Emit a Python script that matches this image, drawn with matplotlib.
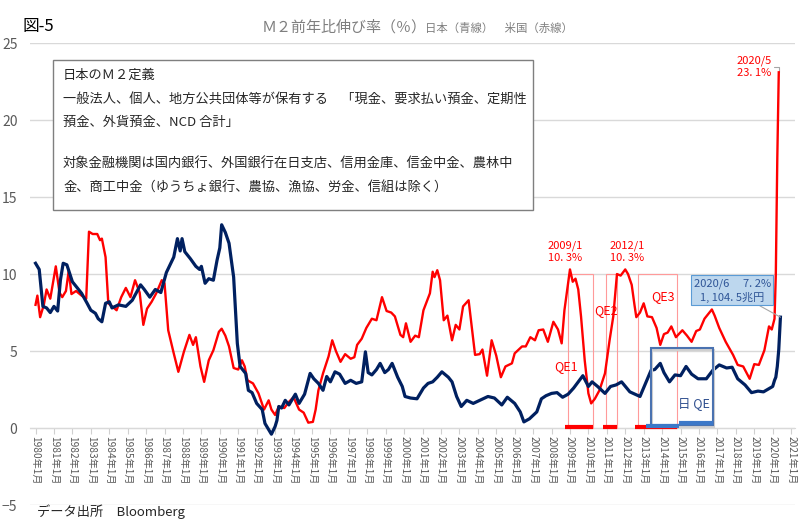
import matplotlib
matplotlib.use("Agg")
import matplotlib.pyplot as plt
from matplotlib.patches import Rectangle

plt.rcParams['font.family'] = ['Noto Sans CJK JP', 'DejaVu Sans']

# 日本 M2 前年比 (%)
jp_t = [1980.0, 1980.2, 1980.4, 1980.6, 1980.8, 1981.0, 1981.2, 1981.35, 1981.5, 1981.7,
        1982.0, 1982.2, 1982.5, 1982.8, 1983.0, 1983.25, 1983.4, 1983.6, 1983.8, 1984.0,
        1984.15, 1984.5, 1984.9, 1985.25, 1985.7, 1985.9, 1986.2, 1986.5, 1986.8, 1987.1,
        1987.5, 1987.7, 1987.85, 1987.95, 1988.1, 1988.4, 1988.7, 1988.9, 1989.0, 1989.2,
        1989.4, 1989.65, 1989.85, 1990.0, 1990.1, 1990.3, 1990.5, 1990.75, 1990.95, 1991.1,
        1991.4, 1991.55, 1991.75, 1992.0, 1992.3, 1992.45, 1992.65, 1992.8, 1993.0, 1993.1,
        1993.2, 1993.35, 1993.55, 1993.75, 1993.9, 1994.1, 1994.3, 1994.6, 1994.9, 1995.1,
        1995.35, 1995.6, 1995.8, 1996.0, 1996.25, 1996.5, 1996.8, 1997.1, 1997.4, 1997.7,
        1997.9, 1998.05, 1998.25, 1998.5, 1998.7, 1998.95, 1999.15, 1999.35, 1999.65, 1999.9,
        2000.05, 2000.35, 2000.7, 2001.05, 2001.3, 2001.55, 2001.8, 2002.05, 2002.4, 2002.6,
        2002.85, 2003.1, 2003.4, 2003.75, 2004.1, 2004.55, 2004.9, 2005.3, 2005.6, 2006.0,
        2006.3, 2006.5, 2006.8, 2007.2, 2007.45, 2007.7, 2008.0, 2008.3, 2008.6, 2008.9,
        2009.2, 2009.45, 2009.7, 2010.0, 2010.2, 2010.5, 2010.9, 2011.2, 2011.5, 2011.8,
        2012.25, 2012.8, 2013.1, 2013.4, 2013.6, 2013.9, 2014.1, 2014.4, 2014.7, 2015.0,
        2015.3, 2015.6, 2015.95, 2016.4, 2016.75, 2017.1, 2017.5, 2017.8, 2018.1, 2018.5,
        2018.85, 2019.2, 2019.5, 2019.85, 2020.0, 2020.1, 2020.17, 2020.25, 2020.33, 2020.42]
jp_v = [10.7, 10.3, 7.9, 7.8, 7.5, 7.9, 7.6, 9.6, 10.7, 10.6,
        9.5, 9.2, 8.75, 8.1, 7.65, 7.45, 7.1, 6.9, 8.1, 8.2,
        7.8, 8.0, 7.9, 8.3, 9.3, 9.0, 8.5, 9.0, 8.8, 10.1,
        11.1, 12.3, 11.5, 12.3, 11.45, 11.0, 10.5, 10.3, 10.5, 9.4,
        9.7, 9.6, 10.9, 11.7, 13.2, 12.7, 12.0, 9.8, 5.5, 4.0,
        3.55, 2.45, 2.3, 1.6, 1.2, 0.3, -0.1, -0.4, 0.1, 0.5,
        1.4, 1.3, 1.8, 1.5, 1.8, 2.2, 1.6, 2.2, 3.55, 3.2,
        2.9, 2.45, 3.35, 3.0, 3.65, 3.5, 2.9, 3.1, 2.9, 3.0,
        4.95, 3.6, 3.45, 3.8, 4.2, 3.6, 3.8, 4.2, 3.3, 2.7,
        2.05, 1.95, 1.9, 2.6, 2.9, 3.0, 3.3, 3.65, 3.3, 3.0,
        2.05, 1.4, 1.8, 1.6, 1.8, 2.05, 1.95, 1.5, 2.0, 1.6,
        1.05, 0.4, 0.6, 1.05, 1.9, 2.1, 2.25, 2.3, 2.0, 2.2,
        2.6, 3.0, 3.4, 2.7, 3.0, 2.7, 2.25, 2.7, 2.8, 3.0,
        2.35, 2.05, 2.9, 3.75, 3.8, 4.2, 3.6, 3.0, 3.45, 3.4,
        4.0, 3.5, 3.2, 3.2, 3.75, 4.1, 3.9, 3.95, 3.2, 2.8,
        2.3, 2.4, 2.35, 2.6, 2.7, 3.1, 3.3, 4.0, 5.1, 7.2]

# 米国 M2 前年比 (%)
us_t = [1980.0, 1980.1, 1980.25, 1980.45, 1980.6, 1980.8, 1981.1, 1981.3, 1981.45, 1981.65,
        1981.8, 1981.95, 1982.2, 1982.5, 1982.75, 1982.9, 1983.1, 1983.35, 1983.5, 1983.6,
        1983.8, 1983.95, 1984.15, 1984.4, 1984.65, 1984.9, 1985.15, 1985.4, 1985.65, 1985.85,
        1986.05, 1986.3, 1986.55, 1986.85, 1987.0, 1987.2, 1987.5, 1987.75, 1988.05, 1988.35,
        1988.55, 1988.7, 1988.95, 1989.15, 1989.4, 1989.65, 1989.95, 1990.1, 1990.3, 1990.5,
        1990.75, 1991.0, 1991.2, 1991.35, 1991.5, 1991.8, 1992.1, 1992.4, 1992.65, 1992.8,
        1993.0, 1993.2, 1993.5, 1993.75, 1994.0, 1994.3, 1994.55, 1994.8, 1995.05, 1995.2,
        1995.35, 1995.6, 1995.9, 1996.1, 1996.3, 1996.55, 1996.8, 1997.1, 1997.3, 1997.45,
        1997.7, 1997.95, 1998.25, 1998.5, 1998.8, 1999.05, 1999.3, 1999.5, 1999.8, 1999.95,
        2000.1, 2000.35, 2000.6, 2000.8, 2001.05, 2001.4, 2001.55, 2001.65, 2001.8, 2001.95,
        2002.15, 2002.35, 2002.6, 2002.8, 2003.0, 2003.2, 2003.5, 2003.6, 2003.85, 2004.1,
        2004.25, 2004.5, 2004.75, 2005.0, 2005.25, 2005.5, 2005.85, 2006.0, 2006.4, 2006.6,
        2006.85, 2007.1, 2007.3, 2007.55, 2007.8, 2008.1, 2008.35, 2008.55, 2008.7, 2008.85,
        2009.0, 2009.15, 2009.3, 2009.45, 2009.6, 2009.8, 2010.0, 2010.15, 2010.35, 2010.6,
        2010.9, 2011.15, 2011.35, 2011.55, 2011.75, 2012.0, 2012.15, 2012.35, 2012.5, 2012.6,
        2012.8, 2013.0, 2013.2, 2013.45, 2013.7, 2013.9, 2014.1, 2014.3, 2014.5, 2014.75,
        2015.1, 2015.35, 2015.6, 2015.85, 2016.05, 2016.3, 2016.7, 2016.85, 2017.1, 2017.45,
        2017.85, 2018.1, 2018.4, 2018.75, 2019.0, 2019.25, 2019.55, 2019.8, 2019.95, 2020.1,
        2020.17, 2020.25, 2020.33]
us_v = [8.0, 8.6, 7.2, 8.0, 9.0, 8.4, 10.5, 8.8, 8.5, 8.9,
        10.2, 8.7, 8.9, 8.6, 8.4, 12.75, 12.6, 12.6, 12.2, 12.3,
        11.1, 8.1, 7.9, 7.65, 8.5, 9.1, 8.5, 9.6, 8.8, 6.7,
        7.75, 8.2, 8.75, 9.6, 9.4, 6.35, 4.85, 3.65, 4.95, 6.05,
        5.4, 5.9, 4.0, 3.0, 4.4, 5.05, 6.25, 6.45, 6.0, 5.3,
        3.9, 3.8, 4.4, 4.0, 3.1, 2.9, 2.25, 1.2, 1.8, 1.2,
        0.85, 1.4, 1.3, 1.7, 2.0, 1.2, 1.0, 0.35, 0.4, 1.2,
        2.45, 3.55, 4.65, 5.7, 5.0, 4.3, 4.8, 4.5, 4.6, 5.4,
        5.8, 6.5, 7.1, 7.0, 8.5, 7.6, 7.5, 7.25, 6.05, 5.9,
        6.8, 5.6, 6.0, 5.9, 7.65, 8.75, 10.15, 9.8, 10.25, 9.6,
        7.0, 7.3, 5.7, 6.7, 6.4, 7.9, 8.3, 7.3, 4.75, 4.8,
        5.1, 3.4, 5.7, 4.7, 3.3, 4.0, 4.2, 4.85, 5.3, 5.3,
        5.9, 5.7, 6.35, 6.4, 5.6, 6.9, 6.4, 5.5, 7.65, 9.0,
        10.3, 9.5, 9.7, 9.0, 7.25, 4.4, 2.25, 1.6, 1.9, 2.45,
        3.55, 5.7, 7.25, 10.0, 9.9, 10.3, 10.0, 9.3, 8.0, 7.2,
        7.5, 8.1, 7.25, 7.2, 6.5, 5.4, 6.1, 6.2, 6.6, 5.9,
        6.35, 6.0, 5.6, 6.3, 6.4, 7.1, 7.7, 7.3, 6.5, 5.6,
        4.75, 4.1, 4.0, 3.2, 4.15, 4.1, 5.05, 6.6, 6.4, 7.1,
        10.0, 17.5, 23.1]

years = list(range(1980, 2022))
year_labels = [f"{y}年1月" for y in years]

# 米QE期間と日QE
qe_names = ["QE1", "QE2", "QE3"]
qe_start = [2008.9, 2010.95, 2012.68]
qe_end = [2010.24, 2011.55, 2014.8]
boj_start, boj_end = 2013.37, 2016.75

fig = plt.figure(figsize=(8, 5.25), dpi=100)
ax = fig.add_axes([0.0375, 0.038, 0.956, 0.88])

ax.plot(us_t, us_v, color='#ff0000', lw=1.7, zorder=4)
ax.plot(jp_t, jp_v, color='#002060', lw=2.3, zorder=5)

for s in ['top', 'right', 'left']:
    ax.spines[s].set_visible(False)
ax.spines['bottom'].set_position(('data', 0))
ax.spines['bottom'].set_color('#d9d9d9')

ax.set_xlim(1979.7, 2021.2)
ax.set_ylim(-5, 25)
ax.set_yticks(range(-5, 30, 5))
ax.set_xticks(years)
ax.set_xticklabels(year_labels, rotation=-90, fontsize=7.3, color='#595959')
ax.yaxis.grid(True, color='#d9d9d9', lw=1)
ax.set_axisbelow(True)
ax.tick_params(axis='x', length=4, color='#d0d0d0', pad=2)
ax.tick_params(axis='y', length=0, labelsize=10, labelcolor='#595959', pad=9)

# QE periods
for name, s, e in zip(qe_names, qe_start, qe_end):
    ax.add_patch(Rectangle((s, 0), e - s, 10, fill=False, ec='#ff9a9a', lw=0.8, zorder=3))
    ax.plot([s - 0.15, e], [0.05, 0.05], color='#ff0000', lw=3, solid_capstyle='butt', zorder=6)
ax.text(2008.78, 4.0, "QE1", color='#ff0000', fontsize=9, ha='center', va='center')
ax.text(2010.95, 7.66, "QE2", color='#ff0000', fontsize=9, ha='center', va='center')
ax.text(2014.04, 8.53, "QE3", color='#ff0000', fontsize=9, ha='center', va='center')

ax.add_patch(Rectangle((boj_start + 0.08, 0.05), boj_end - boj_start, 5.0,
                       fc='none', ec='#d0d0d0', lw=1.5, zorder=5))
ax.add_patch(Rectangle((boj_start, 0.2), boj_end - boj_start, 5.0, fill=False,
                       ec='#4a72b0', lw=1.5, zorder=6))
ax.plot([2013.15, 2014.9], [0.15, 0.15], color='#3c78c8', lw=3, solid_capstyle='butt', zorder=7)
ax.plot([2014.9, 2016.75], [0.35, 0.35], color='#3c78c8', lw=3, solid_capstyle='butt', zorder=7)
ax.text(2015.75, 1.5, "日 QE", color='#2f4f8f', fontsize=9, ha='center', va='center', zorder=7)

ax.text(2008.73, 11.45, "2009/1\n10. 3%", color='#ff0000', fontsize=8, ha='center',
        va='center', linespacing=1.3)
ax.text(2012.09, 11.45, "2012/1\n10. 3%", color='#ff0000', fontsize=8, ha='center',
        va='center', linespacing=1.3)
ax.annotate("2020/5\n23. 1%", xy=(2020.33, 23.1), xytext=(2018.97, 23.45),
            color='#ff0000', fontsize=8, ha='center', va='center', linespacing=1.3,
            arrowprops=dict(arrowstyle='-', color='#a6a6a6', lw=0.8, shrinkA=0, shrinkB=0,
                            connectionstyle='angle,angleA=0,angleB=90'))
ax.annotate("2020/6　 7. 2%\n1, 104. 5兆円", xy=(2020.42, 7.2), xytext=(2017.8, 8.93),
            color='#2f5597', fontsize=8, ha='center', va='center', linespacing=1.3,
            bbox=dict(boxstyle='square,pad=0.25', fc='#bdd7ee', ec='#5b9bd5', lw=0.8),
            arrowprops=dict(arrowstyle='-', color='#a6a6a6', lw=0.8, shrinkA=0, shrinkB=0),
            zorder=8)

# 定義ボックス
fig.add_artist(Rectangle((53 / 800, 1 - 210 / 525), 480 / 800, 150 / 525,
                         transform=fig.transFigure, fc='white', ec='#7f7f7f', lw=1))
box_lines = [
    (75, "日本のＭ２定義"),
    (99, "一般法人、個人、地方公共団体等が保有する　「現金、要求払い預金、定期性"),
    (122, "預金、外貨預金、NCD 合計」"),
    (164, "対象金融機関は国内銀行、外国銀行在日支店、信用金庫、信金中金、農林中"),
    (188, "金、商工中金（ゆうちょ銀行、農協、漁協、労金、信組は除く）"),
]
for py, s in box_lines:
    fig.text(63 / 800, 1 - py / 525, s, fontsize=9.5, color='#262626', va='center')

fig.text(22 / 800, 1 - 27 / 525, "図-5", fontsize=12, color='#000000', va='center')
fig.text(262 / 800, 1 - 27 / 525, "Ｍ２前年比伸び率（％）", fontsize=10.8, color='#7f7f7f', va='center')
fig.text(425 / 800, 1 - 28 / 525, "日本（青線）　米国（赤線）", fontsize=8.2, color='#7f7f7f', va='center')
fig.text(37 / 800, 1 - 512 / 525, "データ出所　Bloomberg", fontsize=9.5, color='#262626', va='center')

fig.savefig("out.png", dpi=100)
